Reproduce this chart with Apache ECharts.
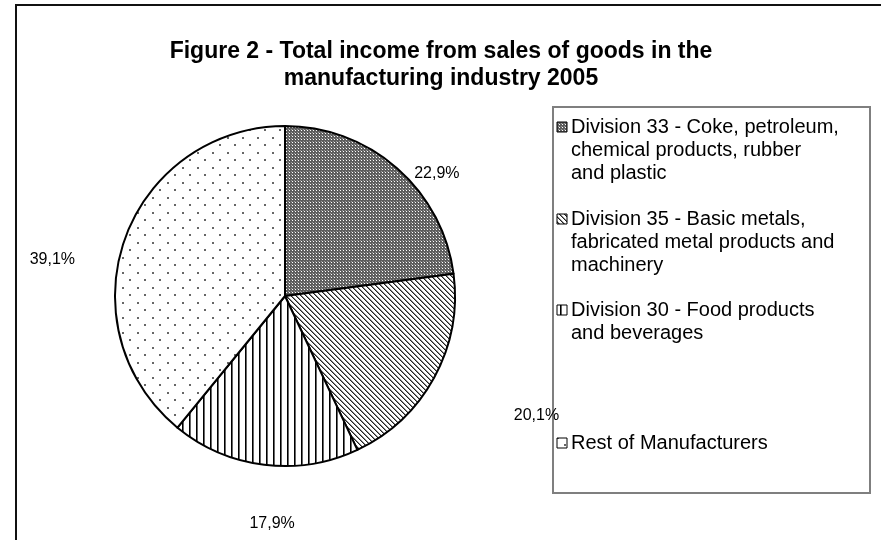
<!DOCTYPE html>
<html>
<head>
<meta charset="utf-8">
<script src="https://cdn.jsdelivr.net/npm/echarts@6/dist/echarts.min.js"></script>
<style>
  html, body { margin: 0; padding: 0; background: #fff; }
  #chart { width: 881px; height: 540px; }
</style>
</head>
<body>
<div id="chart"></div>
<script>
// data
const categories = [
  'Division 33 - Coke, petroleum, chemical products, rubber and plastic',
  'Division 35 - Basic metals, fabricated metal products and machinery',
  'Division 30 - Food products and beverages',
  'Rest of Manufacturers'
];
const legendLines = [
  ['Division 33 - Coke, petroleum,', 'chemical products, rubber', 'and plastic'],
  ['Division 35 - Basic metals,', 'fabricated metal products and', 'machinery'],
  ['Division 30 - Food products', 'and beverages'],
  ['Rest of Manufacturers']
];
const shares = [22.9, 20.1, 17.9, 39.1];

// layout bits
const FONT = 'Liberation Sans, Arial, sans-serif';
const legendTops = [127, 219, 310, 443]; // centre of first line of each entry
const labelNudge = [[-1, 21], [57, 29], [38, 39], [-26, 27]];

// fill patterns like the old excel ones
function tile(w, h, draw) {
  const c = document.createElement('canvas');
  c.width = w;
  c.height = h;
  const ctx = c.getContext('2d');
  ctx.fillStyle = '#fff';
  ctx.fillRect(0, 0, w, h);
  draw(ctx);
  return { image: c, repeat: 'repeat' };
}

const patterns = [
  // dark checker
  tile(3, 3, ctx => {
    ctx.fillStyle = '#5e5e5e';
    ctx.fillRect(0, 0, 3, 3);
    ctx.fillStyle = '#fff';
    ctx.fillRect(1, 1, 1, 1);
    ctx.fillStyle = '#9a9a9a';
    ctx.fillRect(0, 0, 1, 1);
  }),
  // diagonal stripes
  tile(5, 5, ctx => {
    for (let i = 0; i < 5; i++) {
      ctx.fillStyle = '#222';
      ctx.fillRect(i, i, 1, 1);
      ctx.fillStyle = '#888';
      ctx.fillRect((i + 1) % 5, i, 1, 1);
    }
  }),
  // vertical stripes
  tile(7, 1, ctx => {
    ctx.fillStyle = '#000';
    ctx.fillRect(0, 0, 1, 1);
    ctx.fillStyle = '#666';
    ctx.fillRect(1, 0, 1, 1);
  }),
  // sparse dots
  tile(15, 15, ctx => {
    ctx.fillStyle = '#666';
    ctx.fillRect(2, 2, 2, 2);
    ctx.fillRect(9, 9, 2, 2);
  })
];

const pieData = categories.map((name, i) => ({
  name: name,
  value: shares[i],
  itemStyle: { color: patterns[i] }
}));

// legend drawn by hand so the icon sits on the first line
const legendGraphics = [];
legendLines.forEach((lines, i) => {
  legendGraphics.push({
    type: 'rect',
    shape: { x: 557, y: legendTops[i] - 5, width: 10, height: 10 },
    style: { fill: patterns[i], stroke: '#000', lineWidth: 1 }
  });
  legendGraphics.push({
    type: 'text',
    x: 571,
    y: legendTops[i] - 11.5,
    style: {
      text: lines.join('\n'),
      font: '20px ' + FONT,
      lineHeight: 23,
      fill: '#000',
      verticalAlign: 'top'
    }
  });
});

const chart = echarts.init(document.getElementById('chart'), null, { renderer: 'canvas' });

chart.setOption({
  backgroundColor: '#fff',
  animation: false,
  title: {
    text: 'Figure 2 - Total income from sales of goods in the\nmanufacturing industry 2005',
    left: 441,
    top: 38,
    padding: 0,
    textAlign: 'center',
    textStyle: {
      fontFamily: FONT,
      fontSize: 23,
      fontWeight: 'bold',
      lineHeight: 27,
      color: '#000'
    }
  },
  graphic: [
    {
      type: 'rect',
      shape: { x: 16, y: 5, width: 900, height: 600 },
      style: { fill: 'none', stroke: '#111', lineWidth: 2 }
    },
    {
      type: 'rect',
      shape: { x: 553, y: 107, width: 317, height: 386 },
      style: { fill: 'none', stroke: '#7f7f7f', lineWidth: 2 }
    }
  ].concat(legendGraphics),
  series: [
    {
      type: 'pie',
      center: [285, 296],
      radius: 170,
      startAngle: 90,
      clockwise: true,
      silent: true,
      itemStyle: { borderColor: '#000', borderWidth: 2 },
      label: {
        show: true,
        position: 'outside',
        fontFamily: FONT,
        fontSize: 16,
        color: '#000',
        formatter: p => p.value.toFixed(1).replace('.', ',') + '%'
      },
      labelLine: { show: false, length: 20, length2: 0 },
      labelLayout: p => ({ dx: labelNudge[p.dataIndex][0], dy: labelNudge[p.dataIndex][1] }),
      data: pieData
    }
  ]
});
</script>
</body>
</html>
